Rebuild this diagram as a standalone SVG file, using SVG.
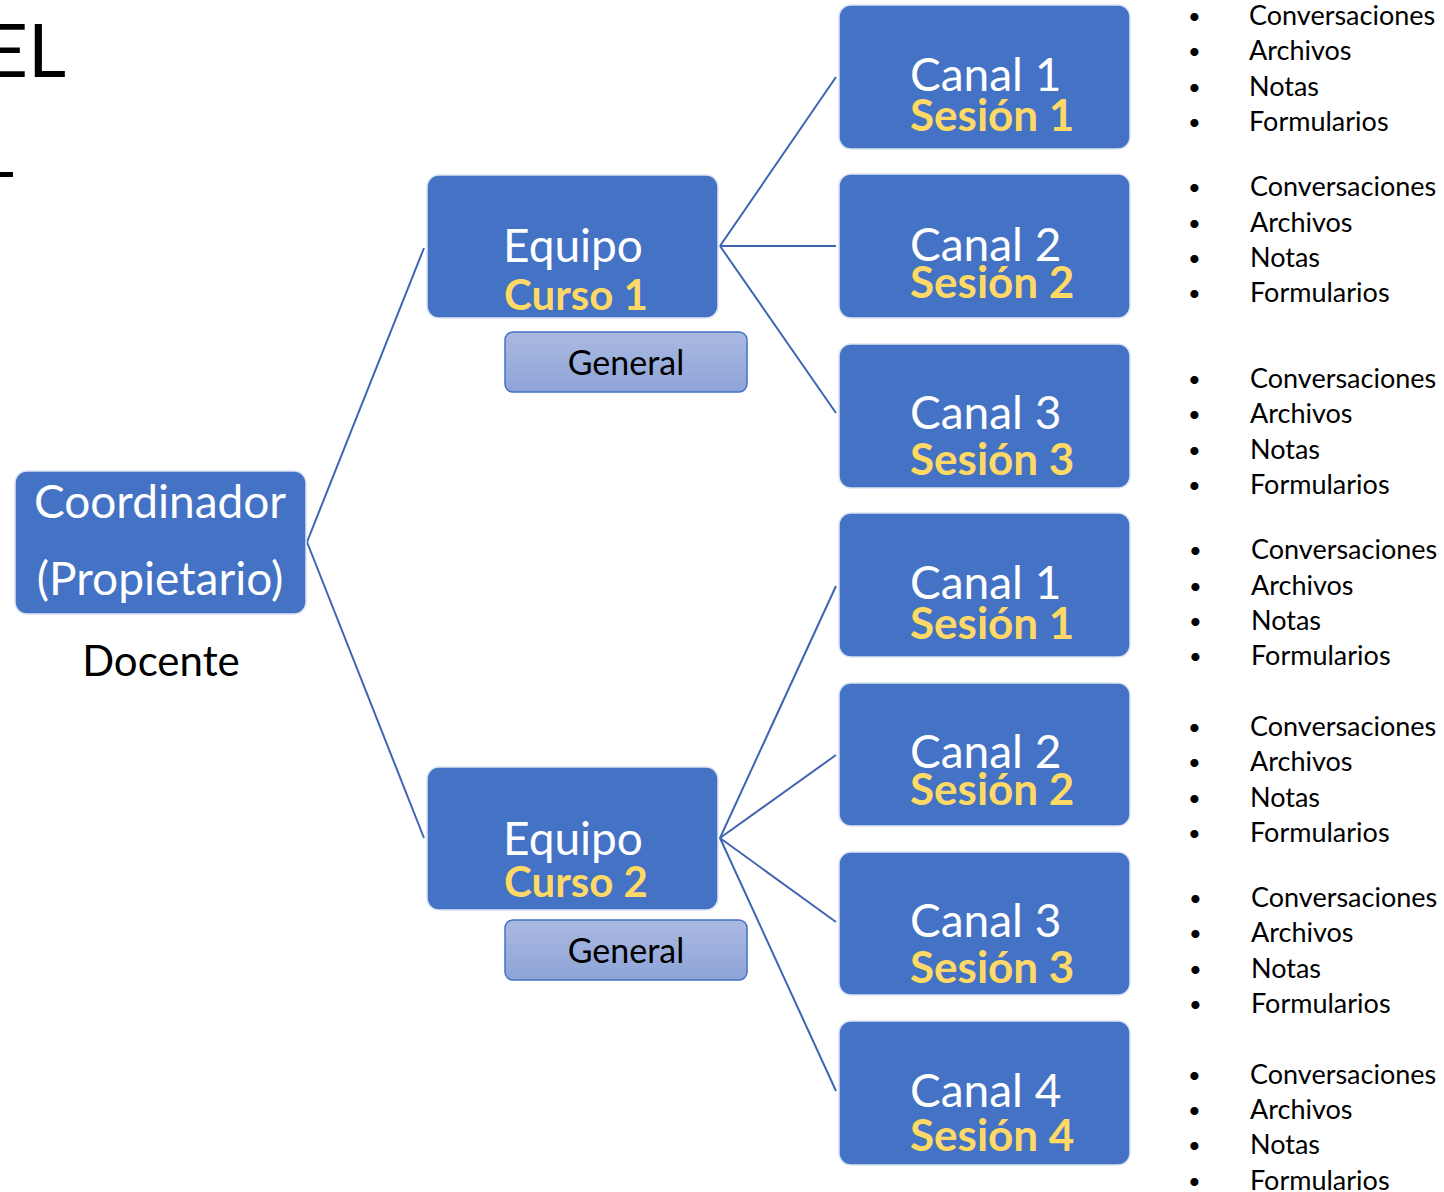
<svg xmlns="http://www.w3.org/2000/svg" width="1444" height="1192" viewBox="0 0 1444 1192">
<defs>
<linearGradient id="gen" x1="0" y1="0" x2="0" y2="1">
<stop offset="0" stop-color="#AAB9E1"/>
<stop offset="1" stop-color="#8EA4D8"/>
</linearGradient>
<style>
text{font-family:Lato,"Open Sans","Liberation Sans",sans-serif}
.box{fill:#4472C4;stroke:#DCE4F3;stroke-width:1.5}
.gen{fill:url(#gen);stroke:#4472C4;stroke-width:1.5}
.w{fill:#FFFFFF;font-size:46px}
.y{fill:#FFD966;font-size:42px;font-weight:bold}
.s{fill:#FFD966;font-size:44px;font-weight:bold}
.k{fill:#000000}
.li{font-size:27px;fill:#000000}
.b{font-size:22px}
.c line{stroke:#3F65B2;stroke-width:2}
</style>
</defs>
<rect width="1444" height="1192" fill="#FFFFFF"/>
<text x="66" y="77" text-anchor="end" class="k" style="font-size:74px">EL</text>
<rect x="0" y="172" width="13" height="5" fill="#000000"/>
<g class="c">
<line x1="307" y1="542" x2="424" y2="248"/>
<line x1="307" y1="542" x2="424" y2="838"/>
<line x1="720" y1="246" x2="836" y2="77"/>
<line x1="720" y1="246" x2="836" y2="246"/>
<line x1="720" y1="246" x2="836" y2="413"/>
<line x1="720" y1="838" x2="836" y2="586"/>
<line x1="720" y1="838" x2="836" y2="755"/>
<line x1="720" y1="838" x2="836" y2="922"/>
<line x1="720" y1="838" x2="836" y2="1091"/>
</g>
<g id="coordinador">
<rect class="box" x="15" y="471" width="291" height="143" rx="12"/>
<text x="160" y="518" text-anchor="middle" class="w">Coordinador</text>
<text x="160" y="595" text-anchor="middle" class="w">(Propietario)</text>
<text x="161" y="676" text-anchor="middle" class="k" style="font-size:42px">Docente</text>
</g>
<g id="equipo1">
<rect class="box" x="427" y="175" width="291" height="143" rx="12"/>
<text x="573" y="262" text-anchor="middle" class="w">Equipo</text>
<text x="576" y="310" text-anchor="middle" class="y">Curso 1</text>
</g>
<g id="general1">
<rect class="gen" x="505" y="332" width="242" height="60" rx="8"/>
<text x="626" y="375" text-anchor="middle" class="k" style="font-size:34px">General</text>
</g>
<g id="equipo2">
<rect class="box" x="427" y="767" width="291" height="143" rx="12"/>
<text x="573" y="855" text-anchor="middle" class="w">Equipo</text>
<text x="576" y="897" text-anchor="middle" class="y">Curso 2</text>
</g>
<g id="general2">
<rect class="gen" x="505" y="920" width="242" height="60" rx="8"/>
<text x="626" y="963" text-anchor="middle" class="k" style="font-size:34px">General</text>
</g>
<g id="canal1a">
<rect class="box" x="839" y="5" width="291" height="144" rx="12"/>
<text x="910" y="91" class="w">Canal 1</text>
<text x="910" y="131" class="s">Sesión 1</text>
</g>
<g id="canal2a">
<rect class="box" x="839" y="174" width="291" height="144" rx="12"/>
<text x="910" y="261" class="w">Canal 2</text>
<text x="910" y="298" class="s">Sesión 2</text>
</g>
<g id="canal3a">
<rect class="box" x="839" y="344" width="291" height="144" rx="12"/>
<text x="910" y="429" class="w">Canal 3</text>
<text x="910" y="475" class="s">Sesión 3</text>
</g>
<g id="canal1b">
<rect class="box" x="839" y="513" width="291" height="144" rx="12"/>
<text x="910" y="599" class="w">Canal 1</text>
<text x="910" y="639" class="s">Sesión 1</text>
</g>
<g id="canal2b">
<rect class="box" x="839" y="683" width="291" height="143" rx="12"/>
<text x="910" y="768" class="w">Canal 2</text>
<text x="910" y="805" class="s">Sesión 2</text>
</g>
<g id="canal3b">
<rect class="box" x="839" y="852" width="291" height="143" rx="12"/>
<text x="910" y="937" class="w">Canal 3</text>
<text x="910" y="983" class="s">Sesión 3</text>
</g>
<g id="canal4b">
<rect class="box" x="839" y="1021" width="291" height="144" rx="12"/>
<text x="910" y="1107" class="w">Canal 4</text>
<text x="910" y="1151" class="s">Sesión 4</text>
</g>
<g id="lista1" class="li">
<text x="1188" y="24" class="b">•</text><text x="1249" y="25">Conversaciones</text>
<text x="1188" y="59" class="b">•</text><text x="1249" y="60">Archivos</text>
<text x="1188" y="95" class="b">•</text><text x="1249" y="96">Notas</text>
<text x="1188" y="130" class="b">•</text><text x="1249" y="131">Formularios</text>
</g>
<g id="lista2" class="li">
<text x="1188" y="195" class="b">•</text><text x="1250" y="196">Conversaciones</text>
<text x="1188" y="231" class="b">•</text><text x="1250" y="232">Archivos</text>
<text x="1188" y="266" class="b">•</text><text x="1250" y="267">Notas</text>
<text x="1188" y="301" class="b">•</text><text x="1250" y="302">Formularios</text>
</g>
<g id="lista3" class="li">
<text x="1188" y="387" class="b">•</text><text x="1250" y="388">Conversaciones</text>
<text x="1188" y="422" class="b">•</text><text x="1250" y="423">Archivos</text>
<text x="1188" y="458" class="b">•</text><text x="1250" y="459">Notas</text>
<text x="1188" y="493" class="b">•</text><text x="1250" y="494">Formularios</text>
</g>
<g id="lista4" class="li">
<text x="1189" y="558" class="b">•</text><text x="1251" y="559">Conversaciones</text>
<text x="1189" y="594" class="b">•</text><text x="1251" y="595">Archivos</text>
<text x="1189" y="629" class="b">•</text><text x="1251" y="630">Notas</text>
<text x="1189" y="664" class="b">•</text><text x="1251" y="665">Formularios</text>
</g>
<g id="lista5" class="li">
<text x="1188" y="735" class="b">•</text><text x="1250" y="736">Conversaciones</text>
<text x="1188" y="770" class="b">•</text><text x="1250" y="771">Archivos</text>
<text x="1188" y="806" class="b">•</text><text x="1250" y="807">Notas</text>
<text x="1188" y="841" class="b">•</text><text x="1250" y="842">Formularios</text>
</g>
<g id="lista6" class="li">
<text x="1189" y="906" class="b">•</text><text x="1251" y="907">Conversaciones</text>
<text x="1189" y="941" class="b">•</text><text x="1251" y="942">Archivos</text>
<text x="1189" y="977" class="b">•</text><text x="1251" y="978">Notas</text>
<text x="1189" y="1012" class="b">•</text><text x="1251" y="1013">Formularios</text>
</g>
<g id="lista7" class="li">
<text x="1188" y="1083" class="b">•</text><text x="1250" y="1084">Conversaciones</text>
<text x="1188" y="1118" class="b">•</text><text x="1250" y="1119">Archivos</text>
<text x="1188" y="1153" class="b">•</text><text x="1250" y="1154">Notas</text>
<text x="1188" y="1189" class="b">•</text><text x="1250" y="1190">Formularios</text>
</g>
</svg>
